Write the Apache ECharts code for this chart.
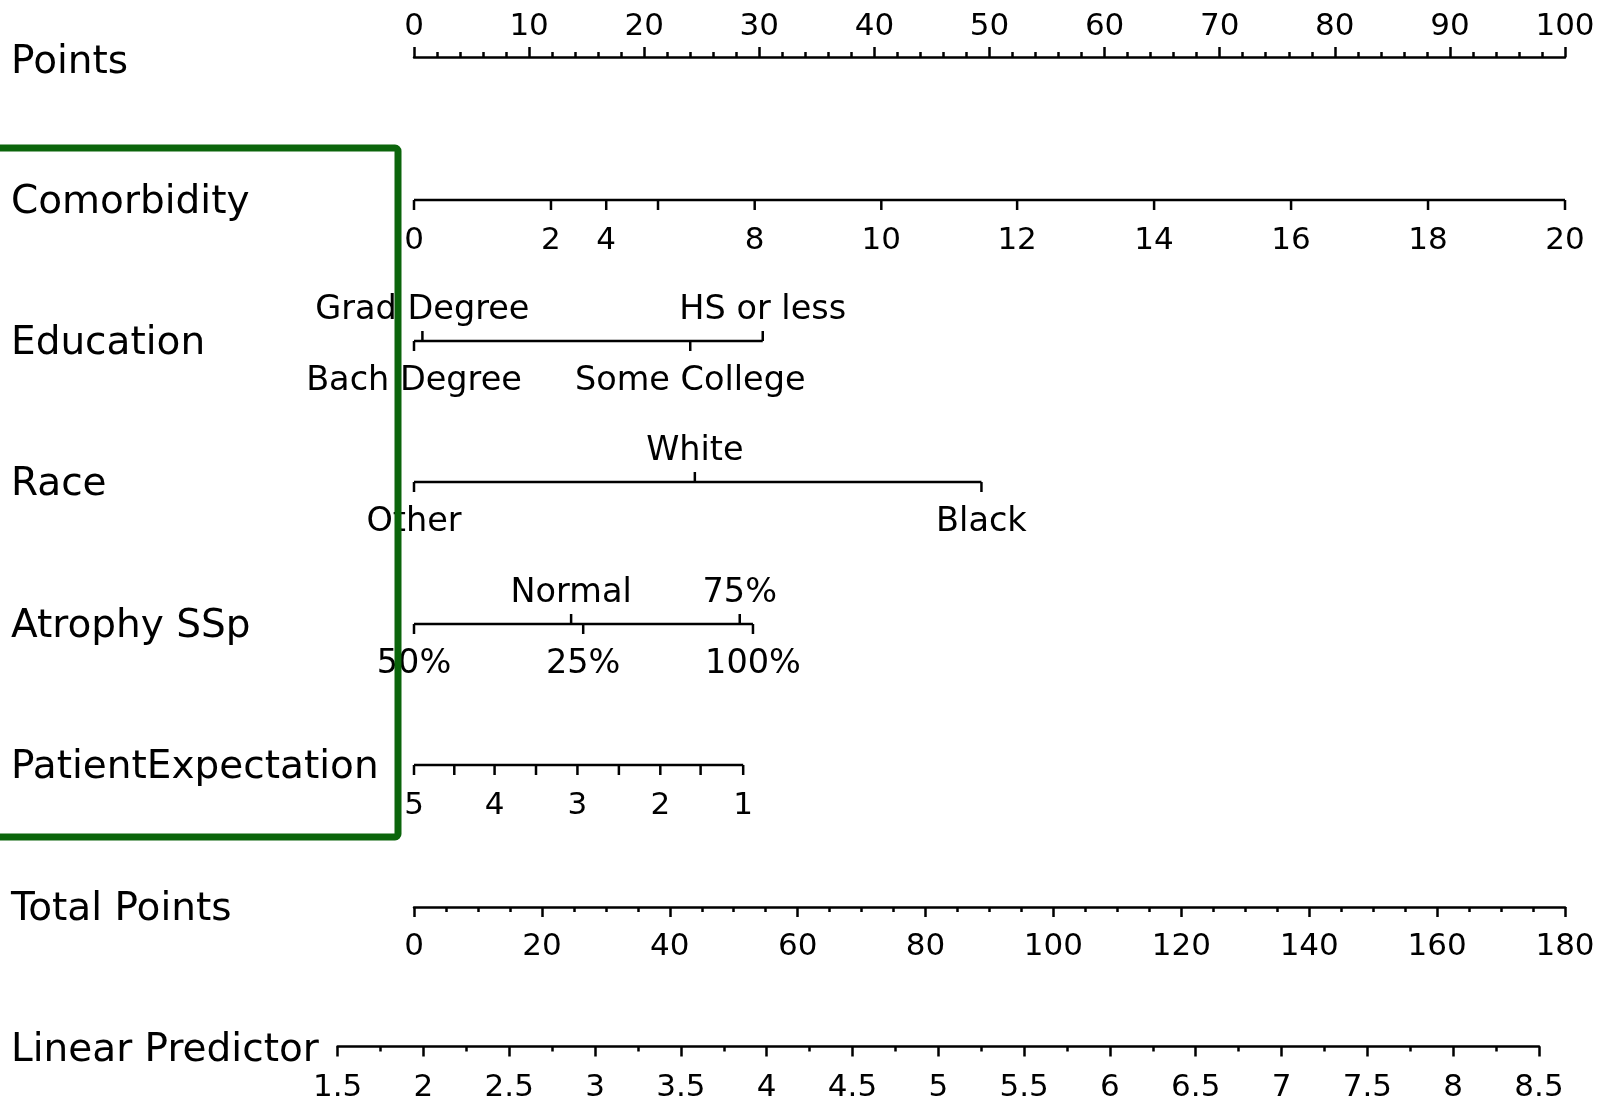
<!DOCTYPE html>
<html><head><meta charset="utf-8">
<script src="https://cdn.jsdelivr.net/npm/echarts@6.0.0/dist/echarts.min.js"></script>
<style>html,body{margin:0;padding:0;background:#fff}#chart{width:1599px;height:1100px}</style>
</head><body><div id="chart"></div>
<script>
// ---- data (positions on the 0-100 "Points" scale) ----
const rowNames = ['Points','Comorbidity','Education','Race','Atrophy SSp','PatientExpectation','Total Points','Linear Predictor'];

const pointsRange = [0, 100];
const pointsInterval = 10;

const comorbidityLabels = ['0','2','4','','8','10','12','14','16','18','20'];
const comorbidityPoints = [0, 11.9, 16.7, 21.2, 29.6, 40.6, 52.4, 64.3, 76.2, 88.1, 100];
const comorbiditySides  = [-1,-1,-1,-1,-1,-1,-1,-1,-1,-1,-1];

const educationLabels = ['Bach Degree','Grad Degree','Some College','HS or less'];
const educationPoints = [0, 0.73, 24.0, 30.3];
const educationSides  = [-1, 1, -1, 1];

const raceLabels = ['Other','White','Black'];
const racePoints = [0, 24.4, 49.3];
const raceSides  = [-1, 1, -1];

const atrophyLabels = ['50%','Normal','25%','75%','100%'];
const atrophyPoints = [0, 13.65, 14.7, 28.3, 29.45];
const atrophySides  = [-1, 1, -1, 1, -1];

const expectationLabels = ['5','','4','','3','','2','','1'];
const expectationPoints = [0, 3.5, 7.0, 10.6, 14.2, 17.8, 21.4, 24.9, 28.6];
const expectationSides  = [-1,-1,-1,-1,-1,-1,-1,-1,-1];

const totalPointsRange = [0, 180];
const totalPointsInterval = 20;

const linearPredictorRange = [1.5, 8.5];
const linearPredictorInterval = 0.5;

// ---- layout / style ----
const FONT = '"DejaVu Sans", sans-serif';
const rowLineY = [57, 200, 341, 482, 624, 765, 907, 1048];
const PX_LEFT = 414, PX_RIGHT = 34;
const BLACK = '#000';
const NUM_FONT = 31, CAT_FONT = 33.5, ROW_FONT = 39;
const LW = 2.5;

const grids = [], xAxes = [], yAxes = [], series = [];

function nativeAxis(gi, position, range, interval, minorSplit, margin) {
  return {
    gridIndex: gi, type: 'value', position: position,
    min: range[0], max: range[1], interval: interval,
    axisLine: {show: true, onZero: false, lineStyle: {color: BLACK, width: LW}},
    axisTick: {show: true, length: 10, lineStyle: {color: BLACK, width: LW}},
    minorTick: {show: true, splitNumber: minorSplit, length: 5, lineStyle: {color: BLACK, width: LW}},
    axisLabel: {show: true, margin: margin, color: BLACK, fontSize: NUM_FONT, fontFamily: FONT,
                showMinLabel: true, showMaxLabel: true, hideOverlap: false},
    splitLine: {show: false}, minorSplitLine: {show: false}
  };
}

// Points (top axis)
grids.push({left: PX_LEFT, right: PX_RIGHT, top: rowLineY[0], height: 2});
xAxes.push(nativeAxis(0, 'top', pointsRange, pointsInterval, 5, 15));
yAxes.push({gridIndex: 0, type: 'value', min: -1, max: 1, show: false});

function addVariableRow(rowIdx, pts, labels, sides, fontSize) {
  const lineY = rowLineY[rowIdx];
  const gi = grids.length;
  grids.push({left: PX_LEFT, right: PX_RIGHT, top: lineY - 1, height: 2});
  xAxes.push({gridIndex: gi, type: 'value', min: pointsRange[0], max: pointsRange[1], show: false});
  yAxes.push({gridIndex: gi, type: 'value', min: -1, max: 1, show: false});
  const lo = Math.min(...pts), hi = Math.max(...pts);
  series.push({type: 'line', xAxisIndex: gi, yAxisIndex: gi, data: [[lo, 0], [hi, 0]],
    symbol: 'none', lineStyle: {color: BLACK, width: LW}, silent: true, animation: false});
  series.push({type: 'custom', xAxisIndex: gi, yAxisIndex: gi, clip: false, silent: true, animation: false,
    data: pts.map((p, i) => [p, sides[i]]),
    renderItem(params, api) {
      const p = api.coord([api.value(0), 0]);
      const side = api.value(1);
      const label = labels[params.dataIndex];
      return {type: 'group', children: [
        {type: 'line', shape: {x1: p[0], y1: p[1], x2: p[0], y2: p[1] - side * 10},
         style: {stroke: BLACK, lineWidth: LW}},
        {type: 'text', x: p[0], y: side > 0 ? p[1] - 31 : p[1] + 40.5,
         style: {text: label, fill: BLACK, font: fontSize + 'px ' + FONT, align: 'center', verticalAlign: 'middle'}}
      ]};
    }});
}

addVariableRow(1, comorbidityPoints, comorbidityLabels, comorbiditySides, NUM_FONT);
addVariableRow(2, educationPoints, educationLabels, educationSides, CAT_FONT);
addVariableRow(3, racePoints, raceLabels, raceSides, CAT_FONT);
addVariableRow(4, atrophyPoints, atrophyLabels, atrophySides, CAT_FONT);
addVariableRow(5, expectationPoints, expectationLabels, expectationSides, NUM_FONT);

// Total Points (bottom axis)
let gi = grids.length;
grids.push({left: PX_LEFT, right: PX_RIGHT, top: rowLineY[6] - 2, height: 2});
xAxes.push(nativeAxis(gi, 'bottom', totalPointsRange, totalPointsInterval, 4, 24));
yAxes.push({gridIndex: gi, type: 'value', min: -1, max: 1, show: false});

// Linear Predictor (bottom axis)
gi = grids.length;
grids.push({left: 337.6, right: 60, top: rowLineY[7] - 2, height: 2});
xAxes.push(nativeAxis(gi, 'bottom', linearPredictorRange, linearPredictorInterval, 2, 26));
yAxes.push({gridIndex: gi, type: 'value', min: -1, max: 1, show: false});

// Row labels + green highlight box
const graphics = rowNames.map((name, i) => ({
  type: 'text', x: 11, y: rowLineY[i] + (i === 0 ? 6 : 3), silent: true,
  style: {text: name, fill: BLACK, font: ROW_FONT + 'px ' + FONT, align: 'left', verticalAlign: 'middle'}
}));
graphics.push({type: 'rect', z: 100, silent: true,
  shape: {x: -10, y: 148, width: 408, height: 689, r: 3},
  style: {fill: 'none', stroke: '#0b650b', lineWidth: 7}});

const chart = echarts.init(document.getElementById('chart'), null, {renderer: 'canvas'});
chart.setOption({
  backgroundColor: '#fff',
  animation: false,
  grid: grids, xAxis: xAxes, yAxis: yAxes, series: series,
  graphic: graphics
});
</script></body></html>
